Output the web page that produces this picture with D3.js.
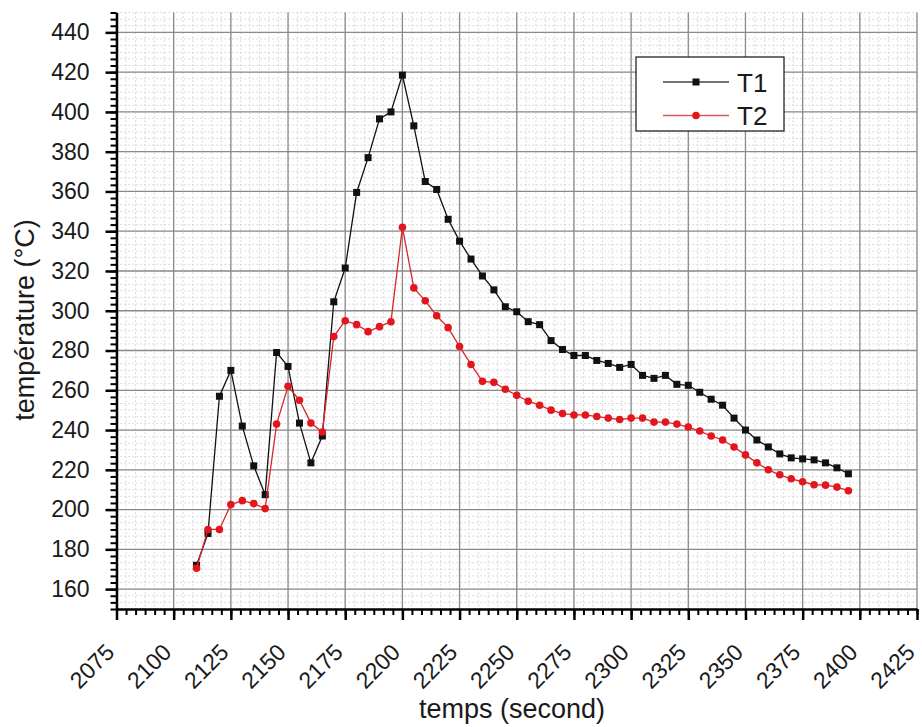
<!DOCTYPE html>
<html lang="fr">
<head>
<meta charset="utf-8">
<title>T1 / T2</title>
<style>
body{
  margin: 0;
  background: #fff;
}
svg text{
  font-family: "Liberation Sans", Arial, sans-serif;
  fill: #1a1a1a;
}
.axis path, .axis line{
  stroke: #000;
  fill: none;
}
</style>
</head>
<body>
<div id="chart"></div>
<script src="https://d3js.org/d3.v7.min.js"></script>
<script>
  // data (time step 5 s)
  const temps = [2110, 2115, 2120, 2125, 2130, 2135, 2140, 2145, 2150, 2155,
    2160, 2165, 2170, 2175, 2180, 2185, 2190, 2195, 2200, 2205,
    2210, 2215, 2220, 2225, 2230, 2235, 2240, 2245, 2250, 2255,
    2260, 2265, 2270, 2275, 2280, 2285, 2290, 2295, 2300, 2305,
    2310, 2315, 2320, 2325, 2330, 2335, 2340, 2345, 2350, 2355,
    2360, 2365, 2370, 2375, 2380, 2385, 2390, 2395];
  const T1 = [172, 188, 257, 270, 242, 222, 207.5, 279, 272, 243.5,
    223.5, 237, 304.5, 321.5, 359.5, 377, 396.5, 400, 418.5, 393,
    365, 361, 346, 335, 326, 317.5, 310.5, 302, 299.5, 294.5,
    293, 285, 280.5, 277.5, 277.5, 275, 273.5, 271.5, 273, 267.5,
    266, 267.5, 263, 262.5, 259, 255.5, 252.5, 246, 240, 235,
    231.5, 228, 226, 225.5, 225, 223.5, 221, 218];
  const T2 = [170.5, 190, 190, 202.5, 204.5, 203, 200.5, 243, 262, 255,
    243.5, 239, 287, 295, 293, 289.5, 292, 294.5, 342, 311.5,
    305, 297.5, 291.5, 282, 273, 264.5, 264, 260.5, 257.5, 254.5,
    252.5, 250, 248.3, 247.6, 247.6, 246.8, 246, 245.3, 246, 246,
    244, 244, 243, 241.5, 239.5, 237, 235, 231.5, 227.5, 223.5,
    220, 217.5, 215.5, 214, 212.5, 212.3, 211.3, 209.5];
  const xTicks = [2075, 2100, 2125, 2150, 2175, 2200, 2225, 2250, 2275, 2300, 2325, 2350, 2375, 2400, 2425];
  const yTicks = [160, 180, 200, 220, 240, 260, 280, 300, 320, 340, 360, 380, 400, 420, 440];

  const width = 922;
  const height = 727;

  const svg = d3.select("#chart")
    .append("svg")
    .attr("width", width)
    .attr("height", height);

  const x = d3.scaleLinear().domain([2075, 2425]).range([116.5, 917]);
  const y = d3.scaleLinear().domain([150, 450]).range([609, 12.5]);

  // minor ticks: 5 between each major
  const xMinor = d3.range(0, 14 * 6 + 1).map(i => 2075 + i * 25 / 6);
  const yMinor = d3.range(0, 15 * 6 + 1).map(i => 150 + i * 20 / 6);

  // minor grid (dotted)
  const grid = svg.append("g");
  grid.selectAll(".vminor")
    .data(xMinor)
    .enter().append("line")
    .attr("x1", d => x(d)).attr("x2", d => x(d))
    .attr("y1", y(450)).attr("y2", y(150))
    .attr("stroke", "#d0d0d0")
    .attr("stroke-dasharray", "1.5,2.5");
  grid.selectAll(".hminor")
    .data(yMinor)
    .enter().append("line")
    .attr("x1", x(2075)).attr("x2", x(2425))
    .attr("y1", d => y(d)).attr("y2", d => y(d))
    .attr("stroke", "#d0d0d0")
    .attr("stroke-dasharray", "1.5,2.5");

  // major grid
  grid.selectAll(".vmajor")
    .data(xTicks)
    .enter().append("line")
    .attr("x1", d => x(d)).attr("x2", d => x(d))
    .attr("y1", y(450)).attr("y2", y(150))
    .attr("stroke", "#8a8a8a")
    .attr("stroke-width", 1.3);
  grid.selectAll(".hmajor")
    .data(yTicks)
    .enter().append("line")
    .attr("x1", x(2075)).attr("x2", x(2425))
    .attr("y1", d => y(d)).attr("y2", d => y(d))
    .attr("stroke", "#8a8a8a")
    .attr("stroke-width", 1.3);

  // minor tick marks
  svg.append("g")
    .attr("class", "axis")
    .attr("transform", `translate(0,${y(150)})`)
    .call(d3.axisBottom(x).tickValues(xMinor).tickSize(6).tickSizeOuter(0).tickFormat(""))
    .call(g => g.selectAll("line").attr("stroke-width", 2))
    .call(g => g.select(".domain").remove());
  svg.append("g")
    .attr("class", "axis")
    .attr("transform", `translate(${x(2075)},0)`)
    .call(d3.axisLeft(y).tickValues(yMinor).tickSize(6).tickSizeOuter(0).tickFormat(""))
    .call(g => g.selectAll("line").attr("stroke-width", 2))
    .call(g => g.select(".domain").remove());

  // x axis
  svg.append("g")
    .attr("class", "axis")
    .attr("transform", `translate(0,${y(150)})`)
    .call(d3.axisBottom(x).tickValues(xTicks).tickSize(11).tickSizeOuter(0).tickFormat(d3.format("d")))
    .call(g => g.select(".domain").attr("stroke-width", 2.5))
    .call(g => g.selectAll("line").attr("stroke-width", 2.5))
    .call(g => g.selectAll("text")
      .attr("x", 0).attr("y", 0).attr("dy", "0.35em")
      .attr("text-anchor", "end")
      .attr("transform", "translate(-7,39) rotate(-45)")
      .style("font-size", "23px"));

  // y axis
  svg.append("g")
    .attr("class", "axis")
    .attr("transform", `translate(${x(2075)},0)`)
    .call(d3.axisLeft(y).tickValues(yTicks).tickSize(11).tickPadding(16).tickSizeOuter(0))
    .call(g => g.select(".domain").attr("stroke-width", 2.5))
    .call(g => g.selectAll("line").attr("stroke-width", 2.5))
    .call(g => g.selectAll("text").style("font-size", "23px"));

  // axis titles
  svg.append("text")
    .attr("x", 512).attr("y", 718)
    .attr("text-anchor", "middle")
    .style("font-size", "27px")
    .text("temps (second)");
  svg.append("text")
    .attr("transform", "translate(34,320) rotate(-90)")
    .attr("text-anchor", "middle")
    .style("font-size", "27px")
    .text("température (°C)");

  // series
  const series = [
    { name: "T1", values: T1, color: "#111", lineColor: "#111", shape: "square" },
    { name: "T2", values: T2, color: "#e3161e", lineColor: "#d8262c", shape: "circle" }
  ];

  const line = d3.line()
    .x((d, i) => x(temps[i]))
    .y(d => y(d));

  series.forEach(s => {
    svg.append("path")
      .datum(s.values)
      .attr("fill", "none")
      .attr("stroke", s.lineColor)
      .attr("stroke-width", 1.3)
      .attr("d", line);

    if (s.shape === "square") {
      svg.selectAll(".m" + s.name)
        .data(s.values)
        .enter().append("rect")
        .attr("x", (d, i) => x(temps[i]) - 3.5)
        .attr("y", d => y(d) - 3.5)
        .attr("width", 7).attr("height", 7)
        .attr("fill", s.color);
    } else {
      svg.selectAll(".m" + s.name)
        .data(s.values)
        .enter().append("circle")
        .attr("cx", (d, i) => x(temps[i]))
        .attr("cy", d => y(d))
        .attr("r", 3.8)
        .attr("fill", s.color);
    }
  });

  // legend
  const legend = svg.append("g");
  legend.append("rect")
    .attr("x", 636).attr("y", 57)
    .attr("width", 148).attr("height", 74)
    .attr("fill", "#fff")
    .attr("stroke", "#111")
    .attr("stroke-width", 1.2);

  series.forEach((s, i) => {
    const ly = 82 + i * 33.5;
    legend.append("line")
      .attr("x1", 663).attr("x2", 729)
      .attr("y1", ly).attr("y2", ly)
      .attr("stroke", i === 0 ? "#444" : "#d85a5a")
      .attr("stroke-width", 1.3);
    if (s.shape === "square") {
      legend.append("rect")
        .attr("x", 696 - 3.5).attr("y", ly - 3.5)
        .attr("width", 7).attr("height", 7)
        .attr("fill", s.color);
    } else {
      legend.append("circle")
        .attr("cx", 696).attr("cy", ly)
        .attr("r", 3.8)
        .attr("fill", s.color);
    }
    legend.append("text")
      .attr("x", 737).attr("y", ly + 9.5)
      .style("font-size", "26px")
      .text(s.name);
  });
</script>
</body>
</html>
